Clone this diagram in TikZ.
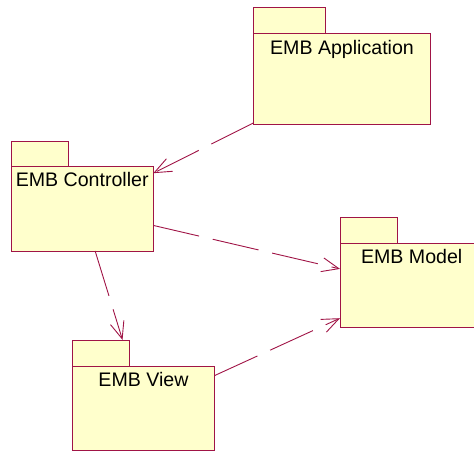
\documentclass[tikz,border=0pt]{standalone}
\usepackage{fontspec}
\setmainfont{Liberation Sans}
\usetikzlibrary{arrows.meta,calc}
\definecolor{pkgline}{RGB}{160,20,70}
\definecolor{pkgfill}{RGB}{255,255,204}
\begin{document}
\begin{tikzpicture}[x=1pt,y=-1pt,
  pkgshape/.style={draw=pkgline,fill=pkgfill,line width=1pt,rectangle,inner sep=0pt,outer sep=0pt,anchor=north west},
  pkglabel/.style={anchor=base,inner sep=0pt,font=\fontsize{19.6}{23}\selectfont},
  dep/.style={draw=pkgline,line width=0.9pt,dash pattern=on 47pt off 14pt,-{Straight Barb[length=17pt,width=14pt]}}]
\clip (0,0) rectangle (474,451);
% EMB Application
\node[pkgshape,minimum width=72.2pt,minimum height=26pt] (apptab) at (253.3,7) {};
\node[pkgshape,minimum width=177.4pt,minimum height=91pt] (app) at (253.3,33) {};
\node[pkglabel] (applabel) at (342,54) {EMB Application};
% EMB Controller
\node[pkgshape,minimum width=57.3pt,minimum height=25.7pt] (ctrltab) at (11,141) {};
\node[pkgshape,minimum width=142.3pt,minimum height=84.3pt] (ctrl) at (11,166.7) {};
\node[pkglabel] (ctrllabel) at (82.2,186.7) {EMB Controller};
% EMB Model
\node[pkgshape,minimum width=57.3pt,minimum height=26pt] (modeltab) at (340,217.3) {};
\node[pkgshape,minimum width=143.4pt,minimum height=84.4pt] (model) at (340,243.3) {};
\node[pkglabel] (modellabel) at (411.7,263.3) {EMB Model};
% EMB View
\node[pkgshape,minimum width=57.4pt,minimum height=26pt] (viewtab) at (72.3,340) {};
\node[pkgshape,minimum width=142.4pt,minimum height=84pt] (view) at (72.3,366) {};
\node[pkglabel] (viewlabel) at (143.5,386) {EMB View};
% dependencies
\coordinate (viewtip) at ($(ctrl.center)!0.658!(view.center)$);
\draw[dep] (app) -- (ctrl);
\draw[dep] (ctrl) -- (model);
\draw[dep] (ctrl) -- (viewtip);
\draw[dep] (view) -- (model);
\end{tikzpicture}
\end{document}
